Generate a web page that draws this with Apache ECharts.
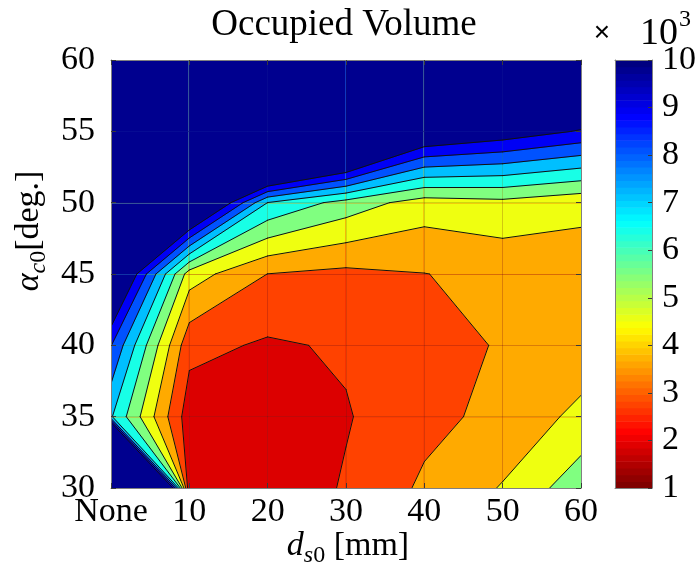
<!DOCTYPE html>
<html>
<head>
<meta charset="utf-8">
<script src="https://cdn.jsdelivr.net/npm/echarts@6/dist/echarts.min.js"></script>
<style>
  html, body { margin: 0; padding: 0; background: #fff; }
  #chart { width: 700px; height: 571px; }
</style>
</head>
<body>
<div id="chart"></div>
<script>
// Sample grid: stand-off distance d_s0 (0 is the "None" case) and angle alpha_c0
const xValues = [0, 10, 20, 30, 40, 50, 60];
const yValues = [30, 35, 40, 45, 50, 55, 60];
const xTickLabels = ['None', '10', '20', '30', '40', '50', '60'];

// Occupied volume (x10^3), one row per alpha_c0 value, columns follow xValues
const volume30 = [43.7, 1.05, 1.27, 2.10, 3.17, 4.07, 5.62];
const volume35 = [7.10, 1.45, 1.30, 1.926, 2.71, 3.29, 4.26];
const volume40 = [9.04, 2.30, 1.868, 2.12, 2.54, 3.10, 3.39];
const volume45 = [12.7, 4.50, 2.99, 2.75, 2.98, 3.28, 3.49];
const volume50 = [20.0, 13.4, 6.98, 5.60, 4.52, 4.72, 4.27];
const volume55 = [28.0, 25.0, 20.0, 16.0, 11.5, 10.73, 9.90];
const volume60 = [30.0, 30.0, 28.0, 24.0, 20.0, 16.0, 14.0];
const volumeRows = [volume30, volume35, volume40, volume45, volume50, volume55, volume60];

// Contour levels and the fill colour of the band starting at each level
const contourLevels = [1, 2, 3, 4, 5, 6, 7, 8, 9, 10];
const bandColors = ['#dc0000', '#ff4200', '#ffaa00', '#efff10', '#80ff80',
                    '#18ffe6', '#00bfff', '#0052ff', '#0000f5', '#00008f'];

// Colour bar range and tick values
const colorbarTicks = [1, 2, 3, 4, 5, 6, 7, 8, 9, 10];
const colorbarSteps = 64;

const serif = '"Liberation Serif", "Times New Roman", serif';
const axisGray = '#808080';
const tickColor = '#3a3a3a';
const gridColor = 'rgba(38,38,38,0.16)';

// ---- marching squares helpers (data coordinates) ----
function cellCorners(i, j) {
  return [
    [xValues[i],     yValues[j],     volumeRows[j][i]],
    [xValues[i + 1], yValues[j],     volumeRows[j][i + 1]],
    [xValues[i + 1], yValues[j + 1], volumeRows[j + 1][i + 1]],
    [xValues[i],     yValues[j + 1], volumeRows[j + 1][i]]
  ];
}
function cross(a, b, L) {
  const t = (L - a[2]) / (b[2] - a[2]);
  return [a[0] + t * (b[0] - a[0]), a[1] + t * (b[1] - a[1])];
}
// part of a cell where value >= L
function regionAbove(c, L) {
  const pts = [];
  for (let k = 0; k < 4; k++) {
    const a = c[k], b = c[(k + 1) % 4];
    const ia = a[2] >= L, ib = b[2] >= L;
    if (ia) pts.push([a[0], a[1]]);
    if (ia !== ib) pts.push(cross(a, b, L));
  }
  return pts;
}
// contour segments of level L inside a cell
function contourSegments(c, L) {
  const pts = [];
  for (let k = 0; k < 4; k++) {
    const a = c[k], b = c[(k + 1) % 4];
    if ((a[2] >= L) !== (b[2] >= L)) pts.push(cross(a, b, L));
  }
  if (pts.length === 2) return [[pts[0], pts[1]]];
  if (pts.length === 4) {
    const centre = (c[0][2] + c[1][2] + c[2][2] + c[3][2]) / 4;
    const highFirst = c[0][2] >= L;
    if ((centre >= L) === highFirst) return [[pts[0], pts[1]], [pts[2], pts[3]]];
    return [[pts[3], pts[0]], [pts[1], pts[2]]];
  }
  return [];
}

const cells = [];
for (let j = 0; j < yValues.length - 1; j++) {
  for (let i = 0; i < xValues.length - 1; i++) {
    cells.push([(xValues[i] + xValues[i + 1]) / 2, (yValues[j] + yValues[j + 1]) / 2, i, j]);
  }
}

// jet colour map, t = 0 dark blue ... t = 1 dark red
function jetColor(t) {
  const f = v => Math.round(255 * Math.max(0, Math.min(1, v)));
  return 'rgb(' + f(1.5 - Math.abs(4 * t - 3)) + ',' + f(1.5 - Math.abs(4 * t - 2)) + ',' +
         f(1.5 - Math.abs(4 * t - 1)) + ')';
}
const cbMin = colorbarTicks[0], cbMax = colorbarTicks[colorbarTicks.length - 1];
const colorbarData = [];
for (let k = 0; k < colorbarSteps; k++) {
  colorbarData.push([cbMin + (cbMax - cbMin) * k / colorbarSteps,
                     cbMin + (cbMax - cbMin) * (k + 1) / colorbarSteps,
                     1 - k / (colorbarSteps - 1)]);
}

// ---- text pieces with sub/superscripts ----
const measureCtx = document.createElement('canvas').getContext('2d');
function textWidth(str, font) { measureCtx.font = font; return measureCtx.measureText(str).width; }
function pieceRow(pieces, cx, mid) {
  let total = 0;
  pieces.forEach(p => { p.w = textWidth(p.text, p.font); total += p.w; });
  let x = cx - total / 2;
  return pieces.map(p => {
    const el = { type: 'text', x: x, y: mid + (p.dy || 0),
      style: { text: p.text, font: p.font, fill: '#000', align: 'left', verticalAlign: 'middle' } };
    x += p.w;
    return el;
  });
}
const fMain = '34px ' + serif, fMainIt = 'italic 34px ' + serif;
const fSub = '24px ' + serif, fSubIt = 'italic 24px ' + serif;

const xNamePieces = [
  { text: 'd', font: fMainIt },
  { text: 's', font: fSubIt, dy: 10 },
  { text: '0', font: fSub, dy: 10 },
  { text: ' [mm]', font: fMain }
];
const yNamePieces = [
  { text: '\u03b1', font: fMainIt },
  { text: 'c', font: fSubIt, dy: 10 },
  { text: '0', font: fSub, dy: 10 },
  { text: '[deg.]', font: fMain }
];

function frameAxis(gridIndex, position, extra) {
  return Object.assign({
    gridIndex: gridIndex, type: 'value', position: position, z: 10,
    axisLine: { show: true, onZero: false, lineStyle: { color: axisGray, width: 1 } },
    axisTick: { show: false },
    axisLabel: { show: false },
    splitLine: { show: false }
  }, extra || {});
}
const labelStyle = { color: '#000', fontFamily: serif, fontSize: 34 };

const chart = echarts.init(document.getElementById('chart'), null, { renderer: 'canvas' });
chart.setOption({
  animation: false,
  backgroundColor: '#ffffff',
  grid: [
    { left: 111, top: 60, width: 470, height: 428 },
    { left: 615, top: 60, width: 37, height: 428 }
  ],
  xAxis: [
    frameAxis(0, 'bottom', {
      min: xValues[0], max: xValues[xValues.length - 1], interval: 10,
      axisTick: { show: true, inside: true, length: 5, lineStyle: { color: tickColor } },
      axisLabel: Object.assign({ margin: 7, formatter: v => xTickLabels[xValues.indexOf(Math.round(v))] }, labelStyle),
      splitLine: { show: true, lineStyle: { color: gridColor, width: 1 } }
    }),
    frameAxis(0, 'top', {
      min: xValues[0], max: xValues[xValues.length - 1], interval: 10,
      axisTick: { show: true, inside: true, length: 5, lineStyle: { color: tickColor } }
    }),
    frameAxis(1, 'bottom', { min: 0, max: 1 }),
    frameAxis(1, 'top', { min: 0, max: 1 })
  ],
  yAxis: [
    frameAxis(0, 'left', {
      min: yValues[0], max: yValues[yValues.length - 1], interval: 5,
      axisTick: { show: true, inside: true, length: 5, lineStyle: { color: tickColor } },
      axisLabel: Object.assign({ margin: 16 }, labelStyle),
      splitLine: { show: true, lineStyle: { color: gridColor, width: 1 } }
    }),
    frameAxis(0, 'right', {
      min: yValues[0], max: yValues[yValues.length - 1], interval: 5,
      axisTick: { show: true, inside: true, length: 5, lineStyle: { color: tickColor } }
    }),
    frameAxis(1, 'right', {
      min: cbMin, max: cbMax, interval: 1,
      axisTick: { show: true, inside: true, length: 4, lineStyle: { color: tickColor } },
      axisLabel: Object.assign({ margin: 10 }, labelStyle)
    }),
    frameAxis(1, 'left', { min: cbMin, max: cbMax })
  ],
  series: [
    {
      // filled contour bands
      type: 'custom', name: 'Occupied Volume', coordinateSystem: 'cartesian2d',
      xAxisIndex: 0, yAxisIndex: 0, clip: true, silent: true, z: 2,
      encode: { x: 0, y: 1 },
      data: cells,
      renderItem: function (params, api) {
        const c = cellCorners(api.value(2), api.value(3));
        const children = [];
        contourLevels.forEach((L, k) => {
          const poly = regionAbove(c, L);
          if (poly.length >= 3) {
            children.push({ type: 'polygon', shape: { points: poly.map(p => api.coord(p)) },
              style: { fill: bandColors[k], stroke: bandColors[k], lineWidth: 0.8 } });
          }
        });
        return { type: 'group', children: children };
      }
    },
    {
      // contour lines
      type: 'custom', coordinateSystem: 'cartesian2d',
      xAxisIndex: 0, yAxisIndex: 0, clip: true, silent: true, z: 3,
      encode: { x: 0, y: 1 },
      data: cells,
      renderItem: function (params, api) {
        const c = cellCorners(api.value(2), api.value(3));
        const children = [];
        contourLevels.forEach(L => {
          contourSegments(c, L).forEach(seg => {
            const a = api.coord(seg[0]), b = api.coord(seg[1]);
            children.push({ type: 'line',
              shape: { x1: a[0], y1: a[1], x2: b[0], y2: b[1] },
              style: { stroke: '#111', lineWidth: 1, lineCap: 'round' } });
          });
        });
        return { type: 'group', children: children };
      }
    },
    {
      // colour bar
      type: 'custom', coordinateSystem: 'cartesian2d',
      xAxisIndex: 2, yAxisIndex: 2, silent: true, z: 2,
      encode: { y: [0, 1] },
      data: colorbarData,
      renderItem: function (params, api) {
        const lo = api.coord([0, api.value(0)]);
        const hi = api.coord([1, api.value(1)]);
        return { type: 'rect',
          shape: { x: lo[0], y: hi[1], width: hi[0] - lo[0], height: lo[1] - hi[1] + 0.6 },
          style: { fill: jetColor(api.value(2)) } };
      }
    }
  ],
  graphic: [
    { type: 'text', x: 344, y: 25,
      style: { text: 'Occupied Volume', font: '37px ' + serif, fill: '#000', align: 'center', verticalAlign: 'middle' } },
    { type: 'text', x: 602, y: 33,
      style: { text: '\u00d7', font: '28px "Liberation Sans", Arial, sans-serif', fill: '#000', align: 'center', verticalAlign: 'middle' } },
    { type: 'text', x: 640, y: 34,
      style: { text: '10', font: '38px ' + serif, fill: '#000', align: 'left', verticalAlign: 'middle' } },
    { type: 'text', x: 679, y: 20,
      style: { text: '3', font: '24px ' + serif, fill: '#000', align: 'left', verticalAlign: 'middle' } },
    { type: 'group', children: pieceRow(xNamePieces, 348, 546) },
    { type: 'group', x: 29, y: 231, rotation: Math.PI / 2, children: pieceRow(yNamePieces, 0, 0) }
  ]
});
</script>
</body>
</html>
